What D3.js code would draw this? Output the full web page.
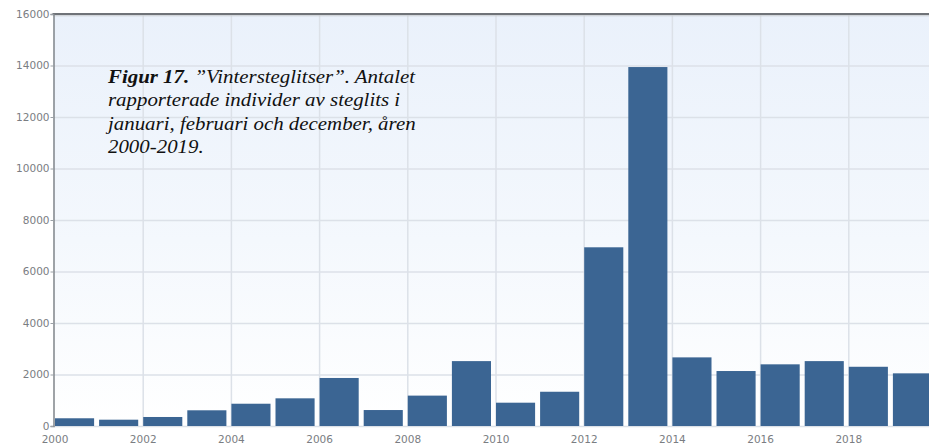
<!DOCTYPE html>
<html>
<head>
<meta charset="utf-8">
<script src="https://cdn.jsdelivr.net/npm/d3@7"></script>
<style>
  html, body { margin: 0; padding: 0; background: #ffffff; overflow: hidden; }
  svg { display: block; }
</style>
</head>
<body>
<svg id="chart" width="929" height="447"></svg>
<script>
// ---- data ----
const years = [2000, 2001, 2002, 2003, 2004, 2005, 2006, 2007, 2008, 2009,
               2010, 2011, 2012, 2013, 2014, 2015, 2016, 2017, 2018, 2019];
const counts = [300, 245, 350, 610, 865, 1075, 1865, 620, 1180, 2520,
                905, 1330, 6940, 13940, 2665, 2135, 2395, 2520, 2300, 2045];
const yTicks = [0, 2000, 4000, 6000, 8000, 10000, 12000, 14000, 16000];
const xTicks = [2000, 2002, 2004, 2006, 2008, 2010, 2012, 2014, 2016, 2018];
const captionLines = [
  [{t: "Figur 17.", b: true}, {t: " ”Vintersteglitser”. Antalet", b: false}],
  [{t: "rapporterade individer av steglits i", b: false}],
  [{t: "januari, februari och december, åren", b: false}],
  [{t: "2000-2019.", b: false}]
];

// ---- layout ----
const W = 929, H = 447;
const mLeft = 53.5, mTop = 14, mBottom = 426;
const svg = d3.select("#chart");

const x = d3.scaleLinear().domain([2000, 2020]).range([54.5, 936.5]);
const y = d3.scaleLinear().domain([0, 16000]).range([mBottom, mTop]);

const defs = svg.append("defs");
const grad = defs.append("linearGradient").attr("id", "bg")
  .attr("x1", 0).attr("y1", 0).attr("x2", 0).attr("y2", 1);
grad.append("stop").attr("offset", "0%").attr("stop-color", "#eaf1fb");
grad.append("stop").attr("offset", "55%").attr("stop-color", "#f4f8fd");
grad.append("stop").attr("offset", "100%").attr("stop-color", "#ffffff");

// plot background
svg.append("rect")
  .attr("x", mLeft).attr("y", mTop)
  .attr("width", W - mLeft + 10).attr("height", mBottom - mTop)
  .attr("fill", "url(#bg)");

// horizontal grid
const yGrid = svg.append("g")
  .attr("transform", `translate(${mLeft},0)`)
  .call(d3.axisLeft(y).tickValues(yTicks).tickSize(-(W - mLeft + 10)).tickFormat(""));
yGrid.select(".domain").remove();
yGrid.selectAll("line").attr("stroke", "#dce1e8").attr("stroke-width", 1.5);

// vertical grid
const xGrid = svg.append("g")
  .attr("transform", `translate(0,${mBottom})`)
  .call(d3.axisBottom(x).tickValues(xTicks.slice(1)).tickSize(-(mBottom - mTop)).tickFormat(""));
xGrid.select(".domain").remove();
xGrid.selectAll("line").attr("stroke", "#dce1e8").attr("stroke-width", 1.5);

// bars
svg.append("g").selectAll("rect")
  .data(years.map((yr, i) => ({yr, v: counts[i]})))
  .join("rect")
  .attr("x", d => x(d.yr) + 0.5)
  .attr("width", d => x(d.yr + 1) - x(d.yr) - 5)
  .attr("y", d => y(d.v))
  .attr("height", d => mBottom - y(d.v))
  .attr("fill", "#3b6593");

// top border
svg.append("line")
  .attr("x1", mLeft - 1).attr("x2", W).attr("y1", mTop).attr("y2", mTop)
  .attr("stroke", "#6f7378").attr("stroke-width", 2);
svg.append("line")
  .attr("x1", mLeft).attr("x2", W).attr("y1", mTop + 1.8).attr("y2", mTop + 1.8)
  .attr("stroke", "#c9ccd0").attr("stroke-width", 1);

// y axis
const yAxis = svg.append("g")
  .attr("transform", `translate(${mLeft},0)`)
  .call(d3.axisLeft(y).tickValues(yTicks).tickSize(3).tickPadding(1).tickFormat(d3.format("d")));
yAxis.select(".domain").attr("stroke", "#80858b").attr("stroke-width", 1.5);
yAxis.selectAll("line").attr("stroke", "#9aa0a6");
yAxis.selectAll("text")
  .attr("fill", "#7a7d82")
  .style("font-family", "'DejaVu Sans', sans-serif")
  .style("font-size", "10.5px");

// x axis
const xAxis = svg.append("g")
  .attr("transform", `translate(0,${mBottom})`)
  .call(d3.axisBottom(x).tickValues(xTicks).tickSize(0).tickPadding(10).tickFormat(d3.format("d")));
xAxis.select(".domain").remove();
xAxis.selectAll("text")
  .attr("fill", "#7a7d82")
  .style("font-family", "'DejaVu Sans', sans-serif")
  .style("font-size", "10.5px");

// caption
const cap = svg.append("text")
  .attr("transform", "translate(108,0) scale(1.16,1)")
  .style("font-family", "'Liberation Serif', 'Times New Roman', serif")
  .style("font-style", "italic")
  .style("font-size", "18px")
  .attr("fill", "#111");
captionLines.forEach((line, i) => {
  line.forEach((seg, j) => {
    const ts = cap.append("tspan").text(seg.t)
      .style("font-weight", seg.b ? "bold" : "normal");
    if (j === 0) ts.attr("x", 0).attr("y", 83 + i * 23.5);
  });
});
</script>
</body>
</html>
